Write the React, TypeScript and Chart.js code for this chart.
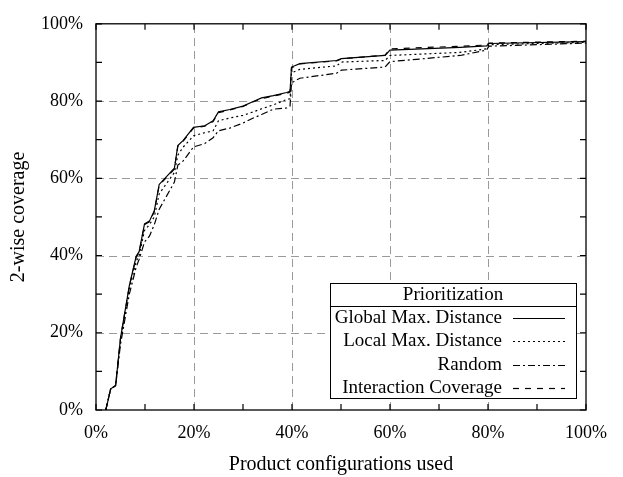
import React, { useEffect, useRef } from "react";
import { Chart, registerables } from "chart.js";

Chart.register(...registerables);

// Share of product configurations used (%)
const configurationsUsed = [
  2, 3, 4, 5, 6.8, 8.2, 8.8, 9.9, 10.9, 11.9, 12.9, 16, 16.7, 17.8, 19.9, 22.2, 23.9, 25, 27.3, 30,
  32.1, 33.8, 36.2, 38.9, 39.6, 39.9, 41.6, 49.1, 50.1, 59, 60, 74.3, 79.7, 80.2, 100,
];

// 2-wise coverage (%) per prioritization
const globalMaxDistance = [
  0, 5.5, 6.3, 18.6, 32.2, 39.8, 41, 48.2, 48.9, 51.6, 58.4, 62.6, 68.5, 69.8, 73.2, 73.6, 74.9, 77.2, 77.8, 78.7,
  79.9, 80.8, 81.4, 82.2, 82.5, 88.8, 89.7, 90.5, 91, 91.8, 93.2, 93.9, 94.3, 94.9, 95.4,
];
const localMaxDistance = [
  0, 5.5, 6.3, 18, 31.5, 38.5, 40, 46.5, 48, 50, 56, 61.5, 66, 68.1, 71, 71.8, 72.3, 74.9, 75.6, 76.3,
  77.2, 78, 79, 80.4, 80.6, 87.3, 88.2, 89.1, 90.1, 90.5, 91.8, 92.6, 93.5, 94.6, 95.2,
];
const randomOrder = [
  0, 5.5, 6.3, 17, 30, 37, 39, 43.5, 45, 48, 52, 59, 63.4, 64.5, 68.1, 69, 70.5, 72.3, 73, 74.3,
  75.6, 76.5, 77.9, 78.2, 78.7, 84.7, 85.9, 87.2, 88, 88.8, 90.2, 91.8, 93.2, 94.2, 95,
];
const interactionCoverage = [
  0, 5.5, 6.3, 18.6, 32, 39.6, 40.8, 48, 48.7, 51.4, 58.2, 62.4, 68.3, 69.6, 73, 73.5, 74.7, 77, 77.7, 78.6,
  79.8, 80.6, 81.3, 82, 82.3, 88.6, 89.6, 90.4, 90.9, 91.9, 93.5, 94.2, 94.5, 95, 95.5,
];

const seriesLabels = ["Global Max. Distance", "Local Max. Distance", "Random", "Interaction Coverage"];
const legendTitle = "Prioritization";
const xTitle = "Product configurations used";
const yTitle = "2-wise coverage";
const majorTicks = [0, 20, 40, 60, 80, 100];
const minorTicks = [0, 10, 20, 30, 40, 50, 60, 70, 80, 90, 100];
const gridTicks = [20, 40, 60, 80];

const FONT = '"Liberation Serif", "Times New Roman", serif';

const framePlugin = {
  id: "frame",
  beforeDatasetsDraw(chart: any) {
    const { ctx, chartArea: a, scales } = chart;
    const x = scales.x;
    const y = scales.y;
    ctx.save();
    ctx.strokeStyle = "#9a9a9a";
    ctx.lineWidth = 1;
    ctx.setLineDash([8, 5]);
    for (const v of gridTicks) {
      const px = Math.round(x.getPixelForValue(v)) + 0.5;
      ctx.beginPath();
      ctx.moveTo(px, a.bottom);
      ctx.lineTo(px, a.top);
      ctx.stroke();
      const py = Math.round(y.getPixelForValue(v)) + 0.5;
      ctx.beginPath();
      ctx.moveTo(a.left, py);
      ctx.lineTo(a.right, py);
      ctx.stroke();
    }
    ctx.restore();
  },
  afterDatasetsDraw(chart: any) {
    const { ctx, chartArea: a, scales } = chart;
    const x = scales.x;
    const y = scales.y;
    ctx.save();
    ctx.strokeStyle = "#000";
    ctx.lineWidth = 1.3;
    ctx.setLineDash([]);
    ctx.strokeRect(a.left, a.top, a.right - a.left, a.bottom - a.top);
    const tl = 6;
    ctx.lineWidth = 1.2;
    for (const v of minorTicks) {
      const px = x.getPixelForValue(v);
      ctx.beginPath();
      ctx.moveTo(px, a.bottom);
      ctx.lineTo(px, a.bottom - tl);
      ctx.moveTo(px, a.top);
      ctx.lineTo(px, a.top + tl);
      ctx.stroke();
      const py = y.getPixelForValue(v);
      ctx.beginPath();
      ctx.moveTo(a.left, py);
      ctx.lineTo(a.left + tl, py);
      ctx.moveTo(a.right, py);
      ctx.lineTo(a.right - tl, py);
      ctx.stroke();
    }

    // legend box
    const bx1 = a.right - 10;
    const bx0 = bx1 - 246;
    const by1 = a.bottom - 12;
    const by0 = by1 - 115;
    ctx.fillStyle = "#fff";
    ctx.fillRect(bx0, by0, bx1 - bx0, by1 - by0);
    ctx.lineWidth = 1;
    ctx.strokeStyle = "#000";
    ctx.strokeRect(Math.round(bx0) + 0.5, Math.round(by0) + 0.5, bx1 - bx0, by1 - by0);
    ctx.beginPath();
    ctx.moveTo(bx0, Math.round(by0 + 23) + 0.5);
    ctx.lineTo(bx1, Math.round(by0 + 23) + 0.5);
    ctx.stroke();
    ctx.fillStyle = "#000";
    ctx.font = `19px ${FONT}`;
    ctx.textBaseline = "middle";
    ctx.textAlign = "center";
    ctx.fillText(legendTitle, (bx0 + bx1) / 2, by0 + 12);
    ctx.textAlign = "right";
    chart.data.datasets.forEach((ds: any, i: number) => {
      const cy = by0 + 35 + i * 23.3;
      ctx.fillText(ds.label, bx0 + 172, cy);
      ctx.save();
      ctx.lineWidth = 1.2;
      ctx.setLineDash(ds.borderDash || []);
      ctx.beginPath();
      ctx.moveTo(bx0 + 183, Math.round(cy) + 0.5);
      ctx.lineTo(bx0 + 235, Math.round(cy) + 0.5);
      ctx.stroke();
      ctx.restore();
    });
    ctx.restore();
  },
};

function series(values: number[]) {
  return configurationsUsed.map((x, i) => ({ x, y: values[i] }));
}

export default function App() {
  const ref = useRef<HTMLCanvasElement | null>(null);

  useEffect(() => {
    if (!ref.current) return;
    const common = { borderColor: "#000", borderWidth: 1.2, pointRadius: 0, tension: 0, fill: false };
    const chart = new Chart(ref.current, {
      type: "line",
      data: {
        datasets: [
          { ...common, label: seriesLabels[0], data: series(globalMaxDistance), borderDash: [], order: 0 },
          { ...common, label: seriesLabels[1], data: series(localMaxDistance), borderDash: [2, 3], order: 2 },
          { ...common, label: seriesLabels[2], data: series(randomOrder), borderDash: [7, 3, 2, 3], order: 3 },
          { ...common, label: seriesLabels[3], data: series(interactionCoverage), borderDash: [6, 6], order: 1 },
        ],
      },
      options: {
        animation: false,
        responsive: false,
        layout: { padding: { left: 0, right: 37, top: 16, bottom: 0 } },
        plugins: { legend: { display: false }, tooltip: { enabled: false } },
        scales: {
          x: {
            type: "linear",
            min: 0,
            max: 100,
            afterFit: (s: any) => {
              s.height = 67;
            },
            afterBuildTicks: (s: any) => {
              s.ticks = majorTicks.map((v) => ({ value: v }));
            },
            ticks: {
              padding: 12,
              color: "#000",
              font: { family: FONT, size: 18 },
              callback: (v: any) => `${v}%`,
              maxRotation: 0,
            },
            grid: { display: false, drawTicks: false, tickLength: 0 },
            border: { display: false },
            title: {
              display: true,
              text: xTitle,
              color: "#000",
              font: { family: FONT, size: 20 },
              padding: { top: 0, bottom: 0 },
            },
          },
          y: {
            type: "linear",
            min: 0,
            max: 100,
            afterFit: (s: any) => {
              s.width = 96;
            },
            afterBuildTicks: (s: any) => {
              s.ticks = majorTicks.map((v) => ({ value: v }));
            },
            ticks: {
              padding: 13,
              color: "#000",
              font: { family: FONT, size: 18 },
              callback: (v: any) => `${v}%`,
            },
            grid: { display: false, drawTicks: false, tickLength: 0 },
            border: { display: false },
            title: {
              display: true,
              text: yTitle,
              color: "#000",
              font: { family: FONT, size: 20 },
              padding: { top: 7, bottom: 0 },
            },
          },
        },
      },
      plugins: [framePlugin],
    });
    return () => chart.destroy();
  }, []);

  return (
    <div style={{ position: "fixed", left: 0, top: 0, width: 623, height: 477, background: "#fff" }}>
      <canvas ref={ref} width={623} height={477} style={{ display: "block", width: 623, height: 477 }} />
    </div>
  );
}
